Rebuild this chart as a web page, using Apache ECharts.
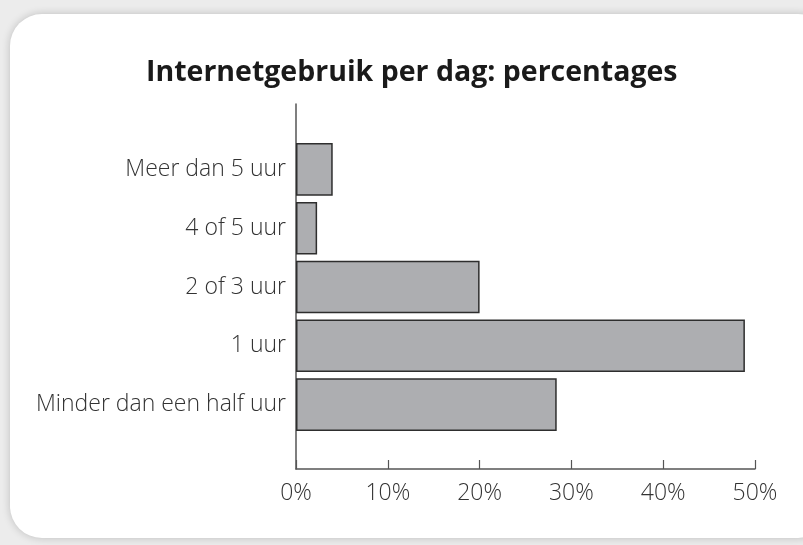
<!DOCTYPE html>
<html>
<head>
<meta charset="utf-8">
<script src="https://cdn.jsdelivr.net/npm/echarts@6/dist/echarts.min.js"></script>
<style>
  html, body { margin: 0; padding: 0; width: 803px; height: 545px; overflow: hidden; background: #ececec; }
  #card { position: absolute; left: 10px; top: 14px; width: 820px; height: 524px; background: #fff; border-radius: 32px; box-shadow: 0 0 9px rgba(0,0,0,0.2); }
  #chart { position: absolute; left: 0; top: 0; width: 803px; height: 545px; }
</style>
</head>
<body>
<div id="card"></div>
<div id="chart"></div>
<script>
const titleText = 'Internetgebruik per dag: percentages';
const categories = ['Minder dan een half uur', '1 uur', '2 of 3 uur', '4 of 5 uur', 'Meer dan 5 uur'];
const values = [28.4, 48.9, 20.0, 2.3, 4.0];
const xTicks = [0, 10, 20, 30, 40, 50];

const font = '"Open Sans", "Noto Sans", sans-serif';
const chart = echarts.init(document.getElementById('chart'), null, { renderer: 'canvas' });
chart.setOption({
  backgroundColor: 'transparent',
  animation: false,
  title: {
    text: titleText,
    left: 141,
    top: 53,
    textStyle: { fontFamily: font, fontWeight: 'bold', fontSize: 28.5, color: '#1a1a1a' }
  },
  grid: [
    { left: 296, right: 48, top: 140, height: 294, containLabel: false },
    { left: 296, right: 48, top: 104, bottom: 76, containLabel: false }
  ],
  xAxis: [
    { type: 'value', gridIndex: 0, min: xTicks[0], max: xTicks[xTicks.length - 1], show: false },
    {
      type: 'value', gridIndex: 1, min: xTicks[0], max: xTicks[xTicks.length - 1], interval: 10,
      axisLine: { show: true, lineStyle: { color: '#555', width: 1.5 } },
      axisTick: { show: true, inside: true, length: 9, lineStyle: { color: '#555', width: 1.2 } },
      axisLabel: { formatter: '{value}%', margin: 13, fontFamily: font, fontSize: 23, fontWeight: 300, color: '#333' },
      splitLine: { show: false }
    }
  ],
  yAxis: [
    {
      type: 'category', gridIndex: 0, data: categories,
      axisLine: { show: false }, axisTick: { show: false },
      axisLabel: { margin: 10, fontFamily: font, fontSize: 23, fontWeight: 300, color: '#333' }
    },
    {
      type: 'value', gridIndex: 1, min: 0, max: 1,
      axisLine: { show: true, lineStyle: { color: '#555', width: 1.5 } },
      axisTick: { show: false }, axisLabel: { show: false }, splitLine: { show: false }
    }
  ],
  series: [{
    type: 'bar',
    xAxisIndex: 0, yAxisIndex: 0,
    data: values,
    barCategoryGap: '10.5%',
    itemStyle: { color: '#adaeb1', borderColor: '#2e2e2e', borderWidth: 1.5 }
  }]
});
</script>
</body>
</html>
